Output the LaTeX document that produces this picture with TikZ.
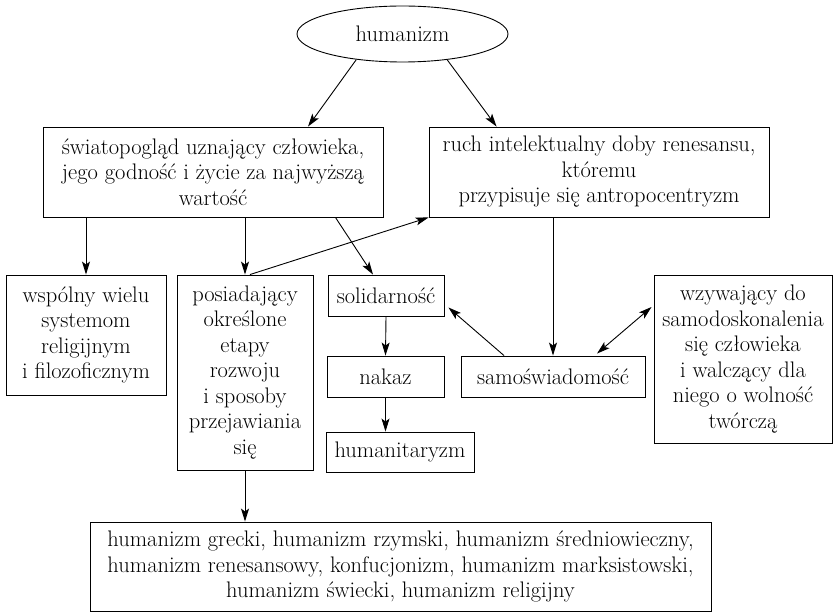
\documentclass[tikz,border=0pt]{standalone}
\usepackage{fontspec}
\usetikzlibrary{shapes.geometric, arrows.meta}

\begin{document}
\begin{tikzpicture}[x=1pt, y=-1pt,
  box/.style={draw, rectangle, line width=0.9pt, align=center, inner sep=0pt, font=\fontsize{22.5}{25.5}\selectfont},
  arr/.style={-{Stealth[length=13pt, width=8pt, inset=3pt]}, line width=0.9pt}, ]

\useasboundingbox (0, 0) rectangle (833, 612);

% Top ellipse
\node[box, ellipse, minimum width=211pt, minimum height=56pt] (humanizm) at (402.5, 34) {humanizm};

% Two definitions
\node[box, minimum width=340pt, minimum height=90pt] (swiatopoglad) at (213, 172)
  {światopogląd uznający człowieka,\\ jego godność i życie za najwyższą\\ wartość};
\node[box, minimum width=340pt, minimum height=90pt] (ruch) at (599, 172)
  {ruch intelektualny doby renesansu,\\ któremu\\ przypisuje się antropocentryzm};

% Middle row
\node[box, minimum width=160pt, minimum height=120pt] (wspolny) at (86, 335)
  {wspólny wielu\\ systemom\\ religijnym\\ i filozoficznym};
\node[box, minimum width=136pt, minimum height=195pt] (posiadajacy) at (245, 372.5)
  {posiadający\\ określone\\ etapy\\ rozwoju\\ i sposoby\\ przejawiania\\ się};
\node[box, minimum width=116pt, minimum height=41pt] (solidarnosc) at (386, 295.5) {solidarność};
\node[box, minimum width=117pt, minimum height=41pt] (nakaz) at (385.5, 376.5) {nakaz};
\node[box, minimum width=148pt, minimum height=40pt] (humanitaryzm) at (400, 452) {humanitaryzm};
\node[box, minimum width=184pt, minimum height=41pt] (samoswiadomosc) at (553, 376.5) {samoświadomość};
\node[box, minimum width=178pt, minimum height=168pt] (wzywajacy) at (743, 359)
  {wzywający do\\ samodoskonalenia\\ się człowieka\\ i walczący dla\\ niego o wolność\\ twórczą};

% Bottom list
\node[box, minimum width=621pt, minimum height=89pt] (odmiany) at (400.5, 566.5)
  {humanizm grecki, humanizm rzymski, humanizm średniowieczny,\\ humanizm renesansowy, konfucjonizm, humanizm marksistowski,\\ humanizm świecki, humanizm religijny};

% Arrows from the ellipse
\draw[arr] (humanizm.209) -- ([xshift=95pt]swiatopoglad.north);
\draw[arr] (humanizm.330) -- ([xshift=68pt]ruch.north west);

% Arrows from the first definition
\draw[arr] (swiatopoglad.south -| wspolny.north) -- (wspolny.north);
\draw[arr] (swiatopoglad.south -| posiadajacy.north) -- (posiadajacy.north);
\draw[arr] ([xshift=-48pt]swiatopoglad.south east) -- ([xshift=-13pt]solidarnosc.north);
\draw[arr] ([xshift=5pt]posiadajacy.north) -- (ruch.south west);

% Arrows in the middle
\draw[arr] (ruch.south -| samoswiadomosc.north) -- (samoswiadomosc.north);
\draw[arr] ([xshift=-49pt]samoswiadomosc.north) -- ([xshift=4pt, yshift=-12pt]solidarnosc.east);
\draw[arr, {Stealth[length=13pt, width=8pt, inset=3pt]}-{Stealth[length=13pt, width=8pt, inset=3pt]}] ([xshift=44pt, yshift=2pt]samoswiadomosc.north) -- ([xshift=-2pt, yshift=52pt]wzywajacy.west);
\draw[arr] (solidarnosc.south) -- (nakaz.north);
\draw[arr] (nakaz.south) -- (nakaz.south |- humanitaryzm.north);

% Arrow to the bottom list
\draw[arr] (posiadajacy.south) -- (posiadajacy.south |- odmiany.north);

\end{tikzpicture}
\end{document}
